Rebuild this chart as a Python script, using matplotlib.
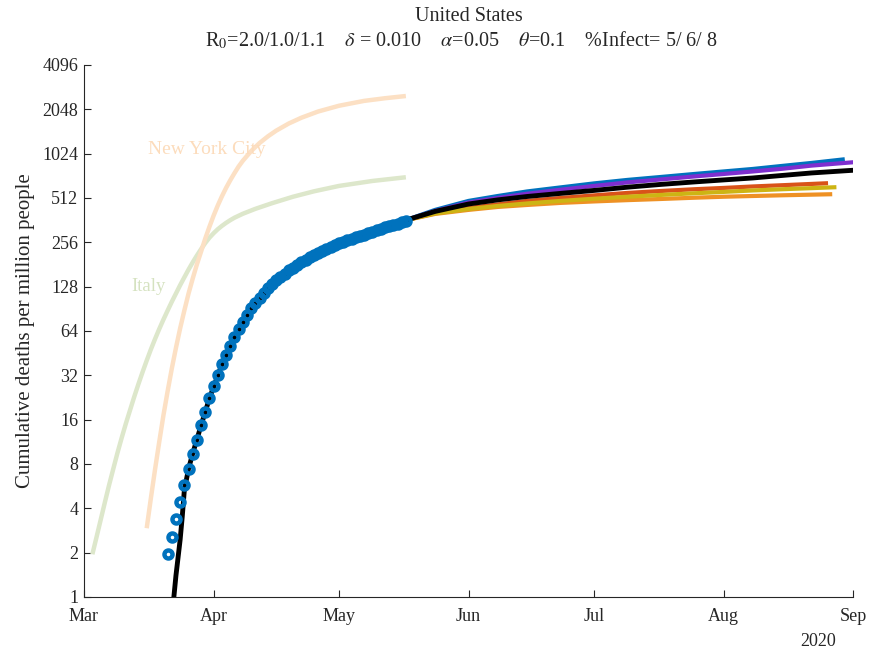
import numpy as np
import matplotlib
matplotlib.use("Agg")
import matplotlib.pyplot as plt
import matplotlib.dates as mdates
from matplotlib.ticker import FixedLocator, NullLocator
from datetime import datetime

plt.rcParams['font.family'] = ['Liberation Serif', 'DejaVu Serif']
plt.rcParams['mathtext.fontset'] = 'stix'

# days counted from 1 Mar 2020
us_deaths = [1.96, 2.57, 3.39, 4.4, 5.76, 7.37, 9.35, 11.6, 14.6, 18.0,
             22.3, 27.0, 32.3, 38.3, 44.0, 50.9, 58.0, 65.8, 73.5, 82.1,
             91.3, 98.8, 106.9, 115.4, 124.7, 133.4, 141, 149, 157, 165,
             172, 180, 188, 195, 203, 210, 218, 225, 232, 239,
             245, 252, 258, 264, 270, 276, 282, 288, 295, 302,
             309, 316, 323, 330, 337, 343, 350, 357]
us_first_day = 20

fit_days = [21.2, 21.5, 22, 22.5, 23, 23.5, 24, 25, 26, 28, 30, 33, 36, 40,
            45, 50, 55, 60, 65, 70, 77, 84, 92, 99, 106, 114, 122, 130, 138,
            146, 153, 160, 167, 174, 185]
fit_vals = [0.7, 1.0, 1.4, 1.85, 2.45, 3.5, 5.3, 7.4, 9.4, 14.6, 22.3, 38, 58, 91,
            133, 172, 210, 245, 276, 309, 362, 415, 466, 497, 524, 550, 576, 606, 633,
            658, 679, 700, 728, 757, 793]

proj_days = [77, 84, 92, 99, 106, 114, 122, 130, 138, 146, 153, 160, 167, 174]
proj_blue = [362, 425, 489, 528, 567, 604, 643, 679, 711, 745, 775, 806, 845, 885, 938]
proj_purple = [362, 418, 477, 512, 547, 582, 618, 653, 684, 717, 745, 775, 808, 849, 895]
proj_red = [362, 405, 438, 463, 489, 512, 533, 554, 571, 587, 599, 613, 625, 645]
proj_yellow = [362, 402, 431, 452, 470, 489, 506, 522, 537, 551, 563, 576, 587, 597, 606]
proj_orange = [362, 399, 425, 445, 459, 474, 485, 495, 504, 514, 522, 528, 534, 543]
proj_end = {'blue': 182, 'purple': 184, 'red': 178, 'yellow': 180, 'orange': 179}

italy_days = [2, 3, 4, 5, 6, 7, 8, 9, 10, 11, 12, 13, 14, 15, 16, 17, 18, 19, 20,
              21, 22, 23, 24, 25, 26, 27, 28, 29, 30, 31, 32, 33, 34, 35, 36, 38,
              41, 45, 50, 55, 61, 69, 77]
italy_vals = [1.95, 2.55, 3.35, 4.4, 5.75, 7.4, 9.5, 12, 15, 18.5, 22.8, 27.8, 33.6,
              40.3, 48, 56.5, 66, 76.5, 88, 101, 115, 131, 148, 167, 187, 208, 230,
              253, 275, 295, 314, 331, 347, 362, 376, 400, 432, 472, 522, 568, 618,
              668, 708]

nyc_days = [15, 16, 17, 18, 19, 20, 21, 22, 23, 24, 25, 26, 27, 28, 29, 30, 31, 32,
            33, 34, 35, 36, 37, 38, 40, 42, 44, 46, 49, 52, 56, 61, 67, 72, 77]
nyc_vals = [2.93, 4.69, 7.36, 11.3, 17.1, 24.9, 35.5, 49.2, 66.7, 88.0, 114.6, 145,
            181, 221, 271, 326, 388, 455, 526, 600, 676, 755, 838, 916, 1067, 1209,
            1342, 1468, 1641, 1795, 1978, 2165, 2336, 2435, 2521]

yticks = [1, 2, 4, 8, 16, 32, 64, 128, 256, 512, 1024, 2048, 4096]
month_labels = ['Mar', 'Apr', 'May', 'Jun', 'Jul', 'Aug', 'Sep']

t0 = mdates.date2num(datetime(2020, 3, 1))
def X(d):
    return t0 + np.asarray(d, dtype=float)

fig = plt.figure(figsize=(8.75, 6.53), dpi=100)
ax = fig.add_axes([0.096, 0.0858, 0.879, 0.8147])

ax.plot(X(italy_days), italy_vals, color='#DDE7CB', lw=3.2, solid_capstyle='butt')
ax.plot(X(nyc_days), nyc_vals, color='#FCE0C4', lw=3.2, solid_capstyle='butt')

pd_ = proj_days
ax.plot(X(pd_[:-1] + [proj_end['orange']]), proj_orange, color='#EE9124', lw=3, solid_capstyle='butt')
ax.plot(X(pd_ + [proj_end['blue']]), proj_blue, color='#0072BD', lw=3, solid_capstyle='butt')
ax.plot(X(pd_[:-1] + [proj_end['red']]), proj_red, color='#D95319', lw=3, solid_capstyle='butt')
ax.plot(X(pd_ + [proj_end['yellow']]), proj_yellow, color='#CDB414', lw=3, solid_capstyle='butt')
ax.plot(X(pd_ + [proj_end['purple']]), proj_purple, color='#7E2FCF', lw=3, solid_capstyle='butt')
ax.plot(X(fit_days), fit_vals, color='black', lw=3.5, solid_capstyle='butt')

us_days = np.arange(us_first_day, us_first_day + len(us_deaths))
ax.plot(X(us_days), us_deaths, 'o', ms=5.8, mew=3.2, mfc='none', mec='#0072BD')

ax.set_yscale('log', base=2)
ax.set_ylim(1, 4096)
ax.yaxis.set_major_locator(FixedLocator(yticks))
ax.yaxis.set_minor_locator(NullLocator())
ax.set_yticklabels([str(v) for v in yticks])

month_starts = [datetime(2020, m, 1) for m in range(3, 10)]
ax.set_xlim(month_starts[0], month_starts[-1])
ax.set_xticks(month_starts)
ax.set_xticklabels(month_labels)

for s in ['top', 'right']:
    ax.spines[s].set_visible(False)
for s in ['left', 'bottom']:
    ax.spines[s].set_color('#262626')
    ax.spines[s].set_linewidth(0.8)
ax.tick_params(direction='in', length=5, width=0.8, color='#262626',
               labelsize=13, labelcolor='#262626')
ax.tick_params(axis='y', pad=4)
ax.tick_params(axis='x', pad=8)

ax.set_ylabel('Cumulative deaths per million people', fontsize=15, color='#262626', labelpad=5)

# title: country on the first line, model parameters below
ax.text(0.5, 1.083, 'United States', transform=ax.transAxes, fontsize=14.5,
        color='#262626', ha='center', va='baseline')
ax.text(0.49, 1.036,
        r'R$_0$=2.0/1.0/1.1    $\delta$ = 0.010    $\alpha$=0.05    $\theta$=0.1    %Infect= 5/ 6/ 8',
        transform=ax.transAxes, fontsize=14.5, color='#262626', ha='center', va='baseline')

ax.text(X(15.3), 1100, 'New York City', color='#FCDCBC', fontsize=14, va='center')
ax.text(X(11.3), 128, 'Italy', color='#D5E2C0', fontsize=13.5, va='center')
ax.text(0.955, -0.068, '2020', transform=ax.transAxes, fontsize=13, color='#262626',
        ha='center', va='top')

fig.savefig('out.png', dpi=100)
